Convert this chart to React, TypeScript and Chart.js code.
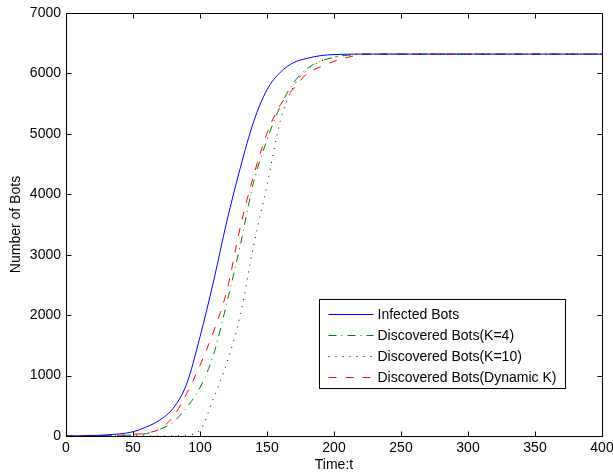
import React, { useEffect, useRef } from "react";
import { Chart, registerables } from "chart.js";

Chart.register(...registerables);

const timeSteps = [0, 10, 20, 30, 40, 50, 60, 70, 80, 90, 100, 110, 120, 130, 140, 150, 160, 170, 180, 190, 200, 210, 220, 230, 240, 250, 300, 350, 400];
const infectedBots = [0, 3, 8, 18, 35, 70, 150, 265, 460, 860, 1640, 2550, 3550, 4430, 5200, 5730, 6020, 6180, 6250, 6295, 6312, 6318, 6320, 6320, 6320, 6320, 6320, 6320, 6320];
const discoveredK4 = [0, 0, 1, 3, 8, 18, 40, 110, 230, 470, 800, 1340, 2200, 3150, 4200, 4900, 5460, 5850, 6080, 6205, 6265, 6300, 6316, 6320, 6320, 6320, 6320, 6320, 6320];
const discoveredK10 = [0, 0, 0, 0, 0, 0, 0, 0, 2, 15, 95, 620, 1210, 1990, 3150, 4150, 5220, 5790, 6060, 6200, 6270, 6305, 6318, 6320, 6320, 6320, 6320, 6320, 6320];
const discoveredDynamic = [0, 1, 2, 5, 12, 25, 50, 116, 320, 700, 1170, 1720, 2400, 3450, 4310, 5010, 5480, 5750, 6000, 6110, 6200, 6265, 6310, 6320, 6320, 6320, 6320, 6320, 6320];

const seriesLabels = ["Infected Bots", "Discovered Bots(K=4)", "Discovered Bots(K=10)", "Discovered Bots(Dynamic K)"];
const xTicks = [0, 50, 100, 150, 200, 250, 300, 350, 400];
const yTicks = [0, 1000, 2000, 3000, 4000, 5000, 6000, 7000];

const FONT = "'Liberation Sans', Arial, Helvetica, sans-serif";

const framePlugin = {
  id: "matlabFrame",
  afterDraw(chart: any) {
    const { ctx, chartArea } = chart;
    const { left, right, top, bottom } = chartArea;
    const xs = chart.scales.x;
    const ys = chart.scales.y;
    ctx.save();
    ctx.strokeStyle = "#000";
    ctx.lineWidth = 1;
    ctx.setLineDash([]);
    const L = Math.round(left) + 0.5;
    const R = Math.round(right) + 0.5;
    const T = Math.round(top) + 0.5;
    const B = Math.round(bottom) + 0.5;
    ctx.beginPath();
    ctx.rect(L, T, R - L, B - T);
    ctx.stroke();
    const tl = 5;
    ctx.beginPath();
    xTicks.forEach((v) => {
      const p = Math.round(xs.getPixelForValue(v)) + 0.5;
      ctx.moveTo(p, B);
      ctx.lineTo(p, B - tl);
      ctx.moveTo(p, T);
      ctx.lineTo(p, T + tl);
    });
    yTicks.forEach((v) => {
      const p = Math.round(ys.getPixelForValue(v)) + 0.5;
      ctx.moveTo(L, p);
      ctx.lineTo(L + tl, p);
      ctx.moveTo(R, p);
      ctx.lineTo(R - tl, p);
    });
    ctx.stroke();

    // legend box
    const bw = 246;
    const bh = 89;
    const bx = Math.round(right) - 37 - bw + 0.5;
    const by = Math.round(bottom) - 48 - bh + 0.5;
    ctx.fillStyle = "#fff";
    ctx.fillRect(bx, by, bw, bh);
    ctx.strokeStyle = "#000";
    ctx.lineWidth = 1;
    ctx.strokeRect(bx, by, bw, bh);
    ctx.font = `14px ${FONT}`;
    ctx.textBaseline = "middle";
    ctx.textAlign = "left";
    chart.data.datasets.forEach((ds: any, i: number) => {
      const y = Math.round(by + 14 + i * 21) + 0.5;
      ctx.save();
      ctx.strokeStyle = ds.borderColor;
      ctx.lineWidth = 1;
      ctx.setLineDash(ds.borderDash || []);
      ctx.beginPath();
      ctx.moveTo(bx + 9, y);
      ctx.lineTo(bx + 54, y);
      ctx.stroke();
      ctx.restore();
      ctx.fillStyle = "#000";
      ctx.fillText(ds.label, bx + 58, y + 1);
    });
    ctx.restore();
  },
};

const zeroPad = (s: any) => {
  s.paddingTop = 0;
  s.paddingBottom = 0;
  s.paddingLeft = 0;
  s.paddingRight = 0;
};

export default function App() {
  const ref = useRef<HTMLCanvasElement | null>(null);
  useEffect(() => {
    if (!ref.current) return;
    const mk = (vals: number[]) => timeSteps.map((t, i) => ({ x: t, y: vals[i] }));
    const chart = new Chart(ref.current, {
      type: "line",
      data: {
        datasets: [
          { label: seriesLabels[0], data: mk(infectedBots), borderColor: "#0000ff", borderWidth: 1, pointRadius: 0, cubicInterpolationMode: "monotone", borderDash: [] },
          { label: seriesLabels[1], data: mk(discoveredK4), borderColor: "#008000", borderWidth: 1, pointRadius: 0, cubicInterpolationMode: "monotone", borderDash: [8, 5, 1, 5] },
          { label: seriesLabels[2], data: mk(discoveredK10), borderColor: "#000000", borderWidth: 1, pointRadius: 0, cubicInterpolationMode: "monotone", borderDash: [1, 6] },
          { label: seriesLabels[3], data: mk(discoveredDynamic), borderColor: "#ff0000", borderWidth: 1, pointRadius: 0, cubicInterpolationMode: "monotone", borderDash: [8, 9] },
        ],
      } as any,
      options: {
        animation: false,
        responsive: false,
        layout: { padding: { top: 13, right: 11, left: 0, bottom: 0 } },
        plugins: { legend: { display: false }, tooltip: { enabled: false } },
        scales: {
          x: {
            type: "linear",
            min: 0,
            max: 400,
            afterBuildTicks: (s: any) => { s.ticks = xTicks.map((v) => ({ value: v })); },
            afterFit: (s: any) => { s.height = 40; zeroPad(s); },
            grid: { display: false, drawTicks: false },
            border: { display: false },
            ticks: { color: "#000", font: { family: FONT, size: 14 }, padding: 4, maxRotation: 0, autoSkip: false, callback: (v: any) => String(v) },
            title: { display: true, text: "Time:t", color: "#000", font: { family: FONT, size: 14 }, padding: { top: 0, bottom: 2 } },
          },
          y: {
            type: "linear",
            min: 0,
            max: 7000,
            afterBuildTicks: (s: any) => { s.ticks = yTicks.map((v) => ({ value: v })); },
            afterFit: (s: any) => { s.width = 66; zeroPad(s); },
            grid: { display: false, drawTicks: false },
            border: { display: false },
            ticks: { color: "#000", font: { family: FONT, size: 14 }, padding: 5, autoSkip: false, callback: (v: any) => String(v) },
            title: { display: true, text: "Number of Bots", color: "#000", font: { family: FONT, size: 14 }, padding: { top: 8, bottom: 0 } },
          },
        },
      } as any,
      plugins: [framePlugin],
    });
    return () => chart.destroy();
  }, []);
  return (
    <div style={{ position: "fixed", left: 0, top: 0, width: 613, height: 476, background: "#fff" }}>
      <canvas ref={ref} width={613} height={476} />
    </div>
  );
}
